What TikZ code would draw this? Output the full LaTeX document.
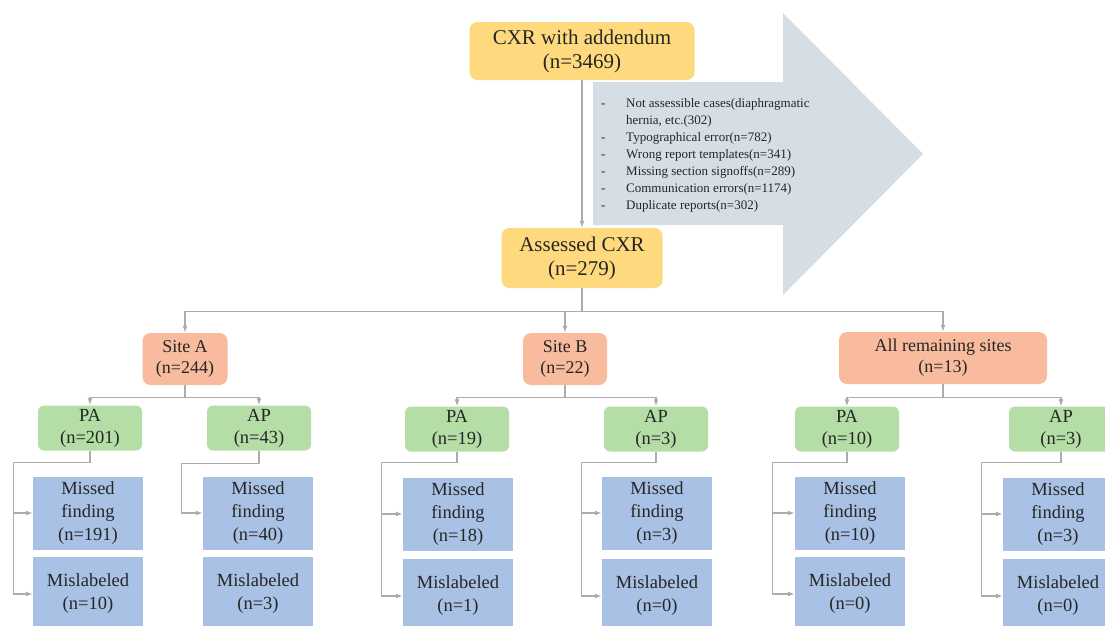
\documentclass[tikz,border=0pt]{standalone}
\usepackage{fontspec}
\setmainfont{LiberationSerif}[Extension=.ttf,UprightFont=*-Regular,BoldFont=*-Bold]
\usetikzlibrary{calc,positioning,arrows.meta}
\definecolor{CXRFill}{RGB}{255,217,125}
\definecolor{SiteFill}{RGB}{248,187,158}
\definecolor{ViewFill}{RGB}{180,222,166}
\definecolor{ErrFill}{RGB}{168,193,228}
\definecolor{ArrowFill}{RGB}{213,221,229}
\definecolor{LineGrey}{RGB}{172,172,172}

\begin{document}
\begin{tikzpicture}[x=1pt,y=-1pt,every node/.style={align=center,inner sep=0pt,text=black!85},
  CXRBox/.style={fill=CXRFill,rounded corners=8pt,font=\fontsize{21}{24}\selectfont},
  SiteBox/.style={fill=SiteFill,rounded corners=8pt,minimum height=52pt,font=\fontsize{18}{21}\selectfont},
  ViewBox/.style={fill=ViewFill,rounded corners=6pt,minimum width=104pt,minimum height=45pt,font=\fontsize{18.5}{22}\selectfont},
  ErrBox/.style={fill=ErrFill,minimum width=110pt,font=\fontsize{18.5}{23}\selectfont},
  Conn/.style={draw=LineGrey,line width=1.2pt,-{Latex[length=7pt,width=5pt]}}]
\useasboundingbox (0,0) rectangle (1105,625);
\clip (0,0) rectangle (1105,625);
\fill [ArrowFill] (593,82) -- (783,82) -- (783,13) -- (923,154) -- (783,295) -- (783,225) -- (593,225) -- cycle;
\node [anchor=west,font=\fontsize{13}{17}\selectfont,align=left] (Excluded) at (601,155) {\begin{tabular}{@{}p{25pt}@{}l@{}}
- & Not assessible cases(diaphragmatic\\
 & hernia, etc.(302)\\
- & Typographical error(n=782)\\
- & Wrong report templates(n=341)\\
- & Missing section signoffs(n=289)\\
- & Communication errors(n=1174)\\
- & Duplicate reports(n=302)
\end{tabular}};
\node [CXRBox,minimum width=225pt,minimum height=58pt] (CXRAll) at (582,51) {CXR with addendum\\(n=3469)};
\node [CXRBox,minimum width=161pt,minimum height=60pt] (CXRAssessed) at (582,258) {Assessed CXR\\(n=279)};
\node [SiteBox,minimum width=85pt] (SiteA) at (185,359) {Site A\\(n=244)};
\node [SiteBox,minimum width=84pt] (SiteB) at (565,359) {Site B\\(n=22)};
\node [SiteBox,minimum width=208pt] (SiteRest) at (943,358) {All remaining sites\\(n=13)};
\node [ViewBox] (SiteAPA) at (90,428) {PA\\(n=201)};
\node [ViewBox] (SiteAAP) at (259,428) {AP\\(n=43)};
\node [ViewBox] (SiteBPA) at (457,429) {PA\\(n=19)};
\node [ViewBox] (SiteBAP) at (656,429) {AP\\(n=3)};
\node [ViewBox] (SiteRestPA) at (847,429) {PA\\(n=10)};
\node [ViewBox] (SiteRestAP) at (1061,429) {AP\\(n=3)};
\node [ErrBox,minimum height=73pt] (SiteAPAMissed) at (88,513) {Missed\\finding\\(n=191)};
\node [ErrBox,minimum height=74pt] (SiteAPAMislabeled) at (88,594) {Mislabeled\\(n=10)};
\node [ErrBox,minimum height=73pt] (SiteAAPMissed) at (258,513) {Missed\\finding\\(n=40)};
\node [ErrBox,minimum height=74pt] (SiteAAPMislabeled) at (258,594) {Mislabeled\\(n=3)};
\node [ErrBox,minimum height=73pt] (SiteBPAMissed) at (458,514) {Missed\\finding\\(n=18)};
\node [ErrBox,minimum height=74pt] (SiteBPAMislabeled) at (458,596) {Mislabeled\\(n=1)};
\node [ErrBox,minimum height=73pt] (SiteBAPMissed) at (657,513) {Missed\\finding\\(n=3)};
\node [ErrBox,minimum height=74pt] (SiteBAPMislabeled) at (657,596) {Mislabeled\\(n=0)};
\node [ErrBox,minimum height=73pt] (SiteRestPAMissed) at (850,513) {Missed\\finding\\(n=10)};
\node [ErrBox,minimum height=74pt] (SiteRestPAMislabeled) at (850,594) {Mislabeled\\(n=0)};
\node [ErrBox,minimum height=73pt] (SiteRestAPMissed) at (1058,514) {Missed\\finding\\(n=3)};
\node [ErrBox,minimum height=74pt] (SiteRestAPMislabeled) at (1058,596) {Mislabeled\\(n=0)};
\draw [Conn] (CXRAll.south) -- (CXRAssessed.north);
\draw [Conn] (CXRAssessed.south) -- ++(0,23) -| (SiteA.north);
\draw [Conn] (CXRAssessed.south) -- ++(0,23) -| (SiteB.north);
\draw [Conn] (CXRAssessed.south) -- ++(0,23) -| (SiteRest.north);
\draw [Conn] (SiteA.south) -- ++(0,12) -| (SiteAPA.north);
\draw [Conn] (SiteA.south) -- ++(0,12) -| (SiteAAP.north);
\draw [Conn] (SiteB.south) -- ++(0,12) -| (SiteBPA.north);
\draw [Conn] (SiteB.south) -- ++(0,12) -| (SiteBAP.north);
\draw [Conn] (SiteRest.south) -- ++(0,13) -| (SiteRestPA.north);
\draw [Conn] (SiteRest.south) -- ++(0,13) -| (SiteRestAP.north);
\draw [Conn] (SiteAPA.south) -- ++(0,12) -| ($(SiteAPAMissed.west)+(-19,0)$) -- (SiteAPAMissed.west);
\draw [Conn] ($(SiteAPAMissed.west)+(-19,0)$) |- (SiteAPAMislabeled.west);
\draw [Conn] (SiteAAP.south) -- ++(0,13) -| ($(SiteAAPMissed.west)+(-21,0)$) -- (SiteAAPMissed.west);
\draw [Conn] (SiteBPA.south) -- ++(0,11) -| ($(SiteBPAMissed.west)+(-21,0)$) -- (SiteBPAMissed.west);
\draw [Conn] ($(SiteBPAMissed.west)+(-21,0)$) |- (SiteBPAMislabeled.west);
\draw [Conn] (SiteBAP.south) -- ++(0,11) -| ($(SiteBAPMissed.west)+(-20,0)$) -- (SiteBAPMissed.west);
\draw [Conn] ($(SiteBAPMissed.west)+(-20,0)$) |- (SiteBAPMislabeled.west);
\draw [Conn] (SiteRestPA.south) -- ++(0,11) -| ($(SiteRestPAMissed.west)+(-22,0)$) -- (SiteRestPAMissed.west);
\draw [Conn] ($(SiteRestPAMissed.west)+(-22,0)$) |- (SiteRestPAMislabeled.west);
\draw [Conn] (SiteRestAP.south) -- ++(0,11) -| ($(SiteRestAPMissed.west)+(-21,0)$) -- (SiteRestAPMissed.west);
\draw [Conn] ($(SiteRestAPMissed.west)+(-21,0)$) |- (SiteRestAPMislabeled.west);
\end{tikzpicture}
\end{document}
